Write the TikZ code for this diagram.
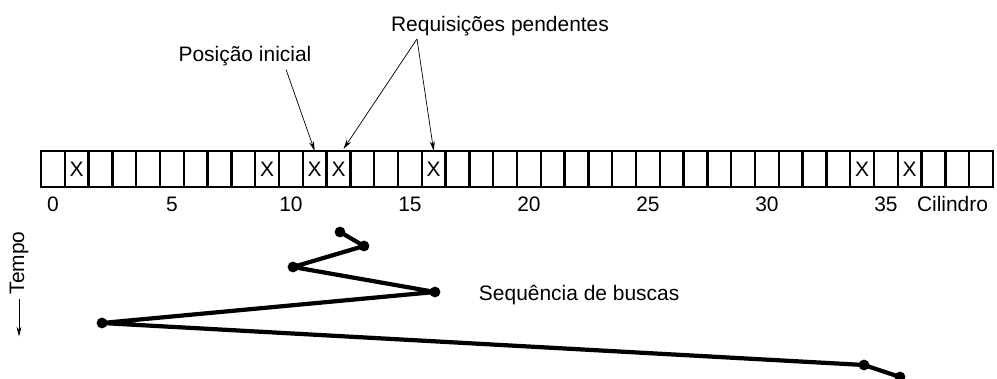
\documentclass[tikz,border=0pt]{standalone}
\usepackage{fontspec}
\setmainfont{Liberation Sans}
\usetikzlibrary{arrows.meta,calc}

\begin{document}
\begin{tikzpicture}[
  x=0.025cm, y=-0.025cm,
  every node/.style={font=\fontsize{14.9}{17}\selectfont},
  cell/.style={draw, line width=1.6pt, minimum width=0.595cm, minimum height=0.9cm, inner sep=0pt, outer sep=0pt},
  pointer/.style={-{Stealth[length=7pt,width=3.6pt]}, line width=0.5pt},
  seek/.style={line width=3pt, line join=round},
  stop/.style={circle, fill, inner sep=0pt, minimum size=0.27cm}
]
\useasboundingbox (0,0) rectangle (997,379);

% cylinder row
\foreach \i in {0,...,39}
  \node[cell] (c\i) at ({52.9+23.8*\i},169) {};
\foreach \i in {1,9,11,12,16,34,36}
  \node (x\i) at (c\i) {X};
\foreach \i in {0,5,...,35}
  \node[anchor=base] (n\i) at ({52.9+23.8*\i},212) {\i};
\node[anchor=base east] (cil) at (993,212) {Cilindro};

% labels above
\node[anchor=base] (inicial) at (245,62) {Posição inicial};
\node[anchor=base] (pend) at (500,32) {Requisições pendentes};
\coordinate (fork) at (417,39);
\draw[pointer] ($(inicial.south)+(41,-2)$) -- (c11.north);
\draw[pointer] (fork) -- ($(c12.north)+(5,-2)$);
\draw[pointer] (fork) -- (c16.north);

% seek sequence
\node[stop] (s0) at (340,232) {};
\node[stop] (s1) at (364,246) {};
\node[stop] (s2) at (293,267) {};
\node[stop] (s3) at (435,292) {};
\node[stop] (s4) at (102,323) {};
\node[stop] (s5) at (864,365) {};
\node[stop] (s6) at (900,377) {};
\draw[seek] (s0.center) -- (s1.center) -- (s2.center) -- (s3.center)
  -- (s4.center) -- (s5.center) -- (s6.center);
\node[anchor=base west] (seq) at (474,301) {Sequência de buscas};

% time axis
\node[rotate=90] (tempo) at (19,263) {Tempo};
\draw[pointer] (tempo.west) -- ++(0,37);
\end{tikzpicture}
\end{document}
